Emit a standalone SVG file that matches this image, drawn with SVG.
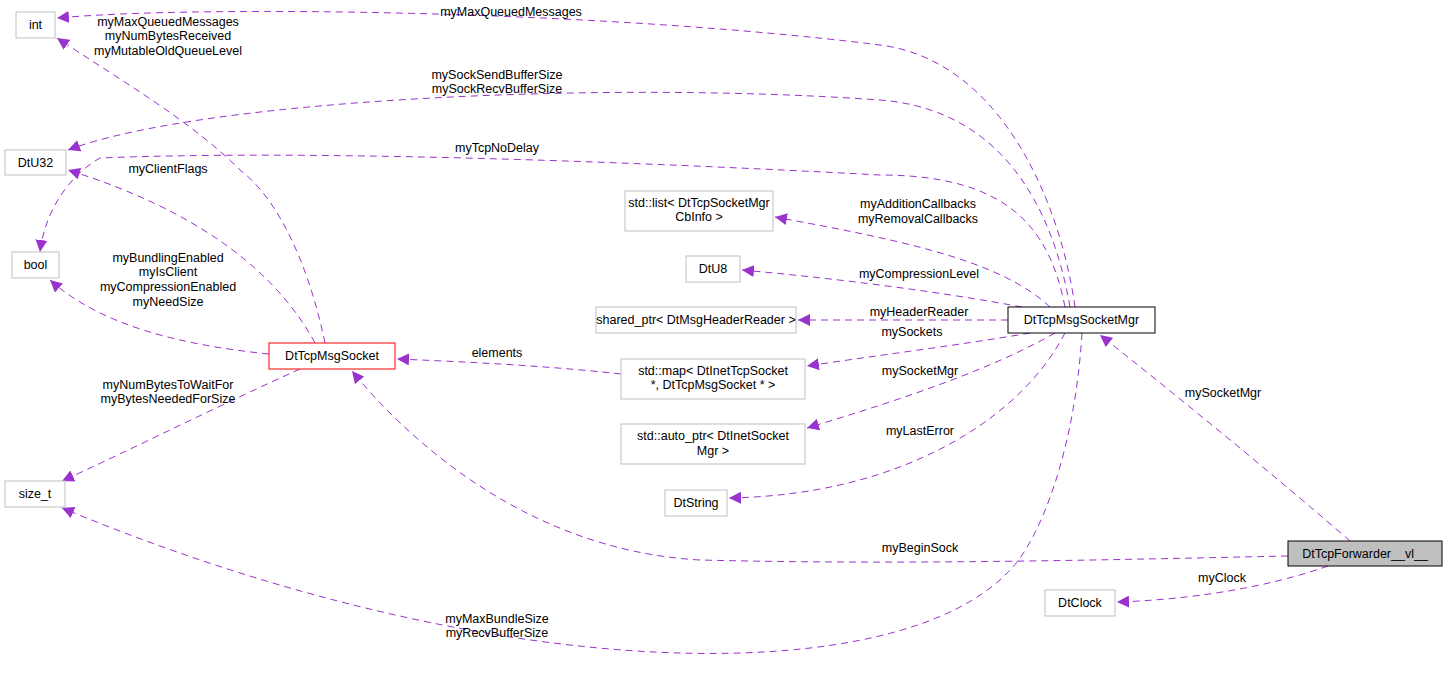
<svg xmlns="http://www.w3.org/2000/svg" width="1448" height="680" viewBox="0 0 1448 680">
<style>
text{font-family:"Liberation Sans",Arial,sans-serif;font-size:12.5px;fill:#000;text-anchor:middle}
.n{fill:#fff;stroke:#bfbfbf;stroke-width:1}
.e{fill:none;stroke:#9a32cd;stroke-width:1;stroke-dasharray:7,5}
</style>
<defs><marker id="a" viewBox="0 0 10 10" refX="10" refY="5" markerWidth="12" markerHeight="12" markerUnits="userSpaceOnUse" orient="auto"><path d="M0,0L10,5L0,10z" fill="#9a32cd"/></marker></defs>
<rect width="1448" height="680" fill="#fff"/>
<g id="connectors">
<path class="e" marker-end="url(#a)" d="M1075,307C1060,200 1000,60 880,45C600,10 200,5 57,18"/>
<path class="e" marker-end="url(#a)" d="M1070,307C1055,220 1010,110 880,100C600,80 200,100 68,150"/>
<path class="e" marker-end="url(#a)" d="M1065,307C1050,230 1010,175 880,175C600,160 300,150 100,158C70,175 45,210 40,252"/>
<path class="e" marker-end="url(#a)" d="M1050,307C1000,260 900,240 775,217"/>
<path class="e" marker-end="url(#a)" d="M1022,307C930,290 830,278 742,270"/>
<path class="e" marker-end="url(#a)" d="M1008,320L798,320"/>
<path class="e" marker-end="url(#a)" d="M1030,333C960,345 880,355 807,366"/>
<path class="e" marker-end="url(#a)" d="M1055,333C990,370 900,400 807,428"/>
<path class="e" marker-end="url(#a)" d="M1065,333C1020,420 900,495 729,498"/>
<path class="e" marker-end="url(#a)" d="M1082,333C1075,450 1040,540 1010,570C900,690 500,690 62,508"/>
<path class="e" marker-end="url(#a)" d="M325,343C310,270 280,200 240,170C190,120 120,80 57,38"/>
<path class="e" marker-end="url(#a)" d="M315,343C270,260 180,205 68,170"/>
<path class="e" marker-end="url(#a)" d="M269,354C180,345 100,325 50,280"/>
<path class="e" marker-end="url(#a)" d="M300,369C220,405 130,450 62,481"/>
<path class="e" marker-end="url(#a)" d="M621,374C550,366 470,362 397,359"/>
<path class="e" marker-end="url(#a)" d="M1350,541C1280,480 1170,390 1100,335"/>
<path class="e" marker-end="url(#a)" d="M1288,556C1100,560 900,565 700,560C520,550 400,430 352,371"/>
<path class="e" marker-end="url(#a)" d="M1328,566C1260,590 1180,600 1117,602"/>
</g>
<g id="labels">
<text x="511" y="16">myMaxQueuedMessages</text>
<text x="497" y="79">mySockSendBufferSize</text>
<text x="497" y="93">mySockRecvBufferSize</text>
<text x="497" y="152">myTcpNoDelay</text>
<text x="918" y="208">myAdditionCallbacks</text>
<text x="918" y="223">myRemovalCallbacks</text>
<text x="919" y="278">myCompressionLevel</text>
<text x="919" y="316">myHeaderReader</text>
<text x="912" y="336">mySockets</text>
<text x="920" y="375">mySocketMgr</text>
<text x="920" y="435">myLastError</text>
<text x="497" y="623">myMaxBundleSize</text>
<text x="497" y="637">myRecvBufferSize</text>
<text x="168" y="26">myMaxQueuedMessages</text>
<text x="168" y="40">myNumBytesReceived</text>
<text x="168" y="55">myMutableOldQueueLevel</text>
<text x="168" y="173">myClientFlags</text>
<text x="168" y="262">myBundlingEnabled</text>
<text x="168" y="276">myIsClient</text>
<text x="168" y="291">myCompressionEnabled</text>
<text x="168" y="306">myNeedSize</text>
<text x="168" y="389">myNumBytesToWaitFor</text>
<text x="168" y="403">myBytesNeededForSize</text>
<text x="497" y="357">elements</text>
<text x="1223" y="397">mySocketMgr</text>
<text x="920" y="552">myBeginSock</text>
<text x="1222" y="582">myClock</text>
</g>
<g id="int"><rect class="n" x="16" y="12" width="39" height="26"/><text x="35.5" y="29">int</text></g>
<g id="DtU32"><rect class="n" x="5" y="150" width="61" height="25"/><text x="35.5" y="167">DtU32</text></g>
<g id="bool"><rect class="n" x="12" y="252" width="47" height="26"/><text x="35.5" y="269">bool</text></g>
<g id="size_t"><rect class="n" x="5" y="481" width="60" height="26"/><text x="35" y="498">size_t</text></g>
<g id="DtTcpMsgSocket"><rect x="269" y="343" width="126" height="26" fill="#fff" stroke="#ff0000"/><text x="332" y="360">DtTcpMsgSocket</text></g>
<g id="stdlist"><rect class="n" x="625" y="191" width="148" height="40"/><text x="699" y="207">std::list&lt; DtTcpSocketMgr</text><text x="699" y="221">CbInfo &gt;</text></g>
<g id="DtU8"><rect class="n" x="686" y="256" width="54" height="26"/><text x="713" y="273">DtU8</text></g>
<g id="shared_ptr"><rect class="n" x="596" y="307" width="200" height="26"/><text x="696" y="324">shared_ptr&lt; DtMsgHeaderReader &gt;</text></g>
<g id="stdmap"><rect class="n" x="621" y="359" width="184" height="40"/><text x="713" y="375">std::map&lt; DtInetTcpSocket</text><text x="713" y="389"> *, DtTcpMsgSocket * &gt;</text></g>
<g id="auto_ptr"><rect class="n" x="621" y="424" width="184" height="40"/><text x="713" y="440">std::auto_ptr&lt; DtInetSocket</text><text x="713" y="455">Mgr &gt;</text></g>
<g id="DtString"><rect class="n" x="665" y="490" width="62" height="26"/><text x="696" y="507">DtString</text></g>
<g id="DtTcpMsgSocketMgr"><rect x="1008" y="307" width="147" height="26" fill="#fff" stroke="#000"/><text x="1081.5" y="324">DtTcpMsgSocketMgr</text></g>
<g id="DtTcpForwarder"><rect x="1288" y="541" width="154" height="25" fill="#bfbfbf" stroke="#000"/><text x="1365" y="558">DtTcpForwarder__vl__</text></g>
<g id="DtClock"><rect class="n" x="1045" y="590" width="70" height="26"/><text x="1080" y="607">DtClock</text></g>
</svg>
